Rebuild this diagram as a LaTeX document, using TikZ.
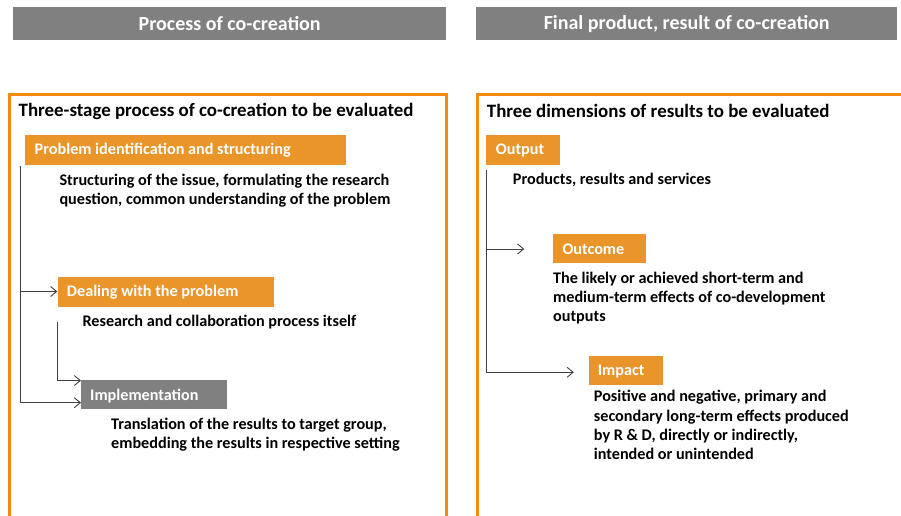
\documentclass[tikz,border=0pt]{standalone}
\usepackage{fontspec}
\setmainfont{Carlito}
\usetikzlibrary{arrows.meta}
\definecolor{hdrgray}{HTML}{808080}
\definecolor{boxorange}{HTML}{E9952A}
\definecolor{frameorange}{HTML}{F28A10}
\definecolor{linegray}{HTML}{404040}
\tikzset{
  hdr/.style={fill=hdrgray, inner sep=0pt, anchor=north west},
  hdrtext/.style={text=white, font=\bfseries\fontsize{20}{24}\selectfont, inner sep=0pt},
  frame/.style={draw=frameorange, line width=3pt},
  ttl/.style={font=\bfseries\fontsize{18.9}{22}\selectfont, text=black, inner sep=0pt, anchor=base west},
  obox/.style={fill=boxorange, inner sep=0pt, anchor=north west},
  gbox/.style={fill=hdrgray, inner sep=0pt, anchor=north west},
  stagetext/.style={text=white, font=\bfseries\fontsize{16.2}{19}\selectfont, inner sep=0pt, anchor=base west},
  desc/.style={font=\bfseries\fontsize{16.2}{19.3}\selectfont, text=black, inner sep=0pt, anchor=base west},
  conn/.style={draw=linegray, line width=0.9pt},
  arr/.style={conn, -{Straight Barb[length=6pt,width=10pt,line width=0.9pt]}}
}
\begin{document}
\begin{tikzpicture}[x=1pt,y=-1pt]
\useasboundingbox (0,0) rectangle (901,516);

% column headers
\node[hdr, minimum width=433pt, minimum height=33.5pt] (hl) at (13,6.8) {};
\node[hdrtext] at (hl.center) {Process of co-creation};
\node[hdr, minimum width=421pt, minimum height=33.5pt] (hr) at (476,6.8) {};
\node[hdrtext] at (hr.center) {Final product, result of co-creation};

% orange frames, open at the bottom
\draw[frame] (9.5,520) -- (9.5,94.5) -- (446.5,94.5) -- (446.5,520);
\draw[frame] (477.5,520) -- (477.5,94.5) -- (905,94.5);

% ---------- left column: process ----------
\node[ttl] (lt) at (18.5,117) {Three-stage process of co-creation to be evaluated};

\node[obox, minimum width=321pt, minimum height=30pt] (p1) at (25,134.3) {};
\node[stagetext] at (34.5,154) {Problem identification and structuring};
\node[desc] (d1) at (59.3,185) {\vtop{\hbox{Structuring of the issue, formulating the research}\hbox{question, common understanding of the problem}}};

\node[obox, minimum width=216.5pt, minimum height=30pt] (p2) at (57.3,276.3) {};
\node[stagetext] at (66.7,296) {Dealing with the problem};
\node[desc] (d2) at (82.3,326.7) {Research and collaboration process itself};

\node[gbox, minimum width=146pt, minimum height=29.5pt] (p3) at (81,379.3) {};
\node[stagetext] at (90,400) {Implementation};
\node[desc] (d3) at (111,429.3) {\vtop{\hbox{Translation of the results to target group,}\hbox{embedding the results in respective setting}}};

\coordinate (l1top) at (20.7,165.5);
\coordinate (l2top) at (57.6,321.7);
\draw[arr] (l1top) |- (p3.west |- 0,402.7);
\draw[arr] (l1top |- p2.west) -- (p2.west);
\draw[arr] (l2top) |- (p3.west |- 0,380.5);

% ---------- right column: results ----------
\node[ttl] (rt) at (486.7,117.3) {Three dimensions of results to be evaluated};

\node[obox, minimum width=73.7pt, minimum height=30pt] (o1) at (486,134.3) {};
\node[stagetext] at (495.7,154) {Output};
\node[desc] (e1) at (512.7,184) {Products, results and services};

\node[obox, minimum width=93.3pt, minimum height=28.7pt] (o2) at (552.7,234) {};
\node[stagetext] at (562.3,254.3) {Outcome};
\node[desc] (e2) at (553,283.3) {\vtop{\hbox{The likely or achieved short-term and}\hbox{medium-term effects of co-development}\hbox{outputs}}};

\node[obox, minimum width=74pt, minimum height=29pt] (o3) at (588.3,355.7) {};
\node[stagetext] at (597.7,375) {Impact};
\node[desc] (e3) at (593.7,401.7) {\vtop{\hbox{Positive and negative, primary and}\hbox{secondary long-term effects produced}\hbox{by R \& D, directly or indirectly,}\hbox{intended or unintended}}};

\coordinate (r1top) at (486.3,170);
\draw[arr, shorten >=14.5pt] (r1top) |- (o3.west |- 0,372.3);
\draw[arr, shorten >=28.5pt] (r1top |- 0,249) -- (o2.west |- 0,249);
\end{tikzpicture}
\end{document}
